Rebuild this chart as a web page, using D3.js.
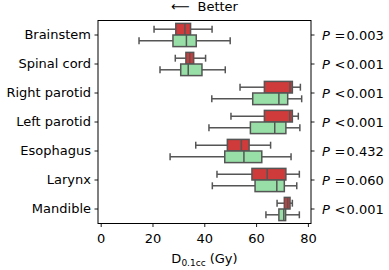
<!DOCTYPE html>
<html><head><meta charset="utf-8">
<script src="https://cdn.jsdelivr.net/npm/d3@7"></script>
<style>html,body{margin:0;padding:0;background:#fff}</style>
</head><body><svg id="c" width="389" height="270"></svg>
<script>
const categories = ["Brainstem","Spinal cord","Right parotid","Left parotid","Esophagus","Larynx","Mandible"];
const pRel = ["=","<","<","<","=","=","<"];
const pVals = ["0.003","0.001","0.001","0.001","0.432","0.060","0.001"];
// [whiskerLow, q1, median, q3, whiskerHigh]
const redStats = [
  [20.6, 29.0, 32.5, 34.7, 43.0],
  [28.8, 32.9, 34.4, 35.9, 40.5],
  [53.8, 63.2, 73.1, 74.0, 77.1],
  [50.3, 63.2, 73.0, 74.0, 76.3],
  [36.7, 48.9, 54.3, 57.3, 65.6],
  [44.9, 58.4, 64.3, 71.5, 76.7],
  [68.1, 70.9, 72.2, 73.1, 74.0]
];
const greenStats = [
  [14.8, 27.9, 33.1, 36.9, 50.0],
  [22.9, 30.9, 33.8, 39.1, 48.1],
  [42.9, 58.7, 68.8, 72.2, 77.6],
  [41.8, 57.8, 67.2, 71.5, 76.9],
  [26.8, 47.9, 55.3, 62.2, 73.5],
  [43.1, 59.6, 68.0, 70.9, 75.7],
  [63.8, 68.8, 70.7, 71.4, 76.7]
];
const xTicks = [0,20,40,60,80];

const svg = d3.select("#c");
const L=98, R=311, T=20.5, B=223.5;
const font = "DejaVu Sans, sans-serif";
const x = d3.scaleLinear().domain([-1.04, 81.2]).range([L, R]);
const y = d3.scaleBand().domain(categories).range([T, B]).padding(0);
const bh = y.bandwidth()*0.4;
const edge = "#555555";

function drawBox(stats, cat, offset, fill){
  const cy = y(cat) + y.bandwidth()/2 + offset;
  const g = svg.append("g");
  const [lo,q1,med,q3,hi] = stats;
  g.append("line").attr("x1",x(lo)).attr("x2",x(q1)).attr("y1",cy).attr("y2",cy).attr("stroke",edge).attr("stroke-width",1.5);
  g.append("line").attr("x1",x(q3)).attr("x2",x(hi)).attr("y1",cy).attr("y2",cy).attr("stroke",edge).attr("stroke-width",1.5);
  [lo,hi].forEach(v=>g.append("line").attr("x1",x(v)).attr("x2",x(v)).attr("y1",cy-bh*0.3).attr("y2",cy+bh*0.3).attr("stroke",edge).attr("stroke-width",1.5));
  g.append("rect").attr("x",x(q1)).attr("y",cy-bh/2).attr("width",x(q3)-x(q1)).attr("height",bh)
    .attr("fill",fill).attr("stroke",edge).attr("stroke-width",1.5);
  g.append("line").attr("x1",x(med)).attr("x2",x(med)).attr("y1",cy-bh/2).attr("y2",cy+bh/2).attr("stroke",edge).attr("stroke-width",1.5);
}
categories.forEach((c,i)=>{
  drawBox(redStats[i], c, -bh/2, "#cf3a3a");
  drawBox(greenStats[i], c, bh/2, "#97dfa6");
});

// frame
svg.append("rect").attr("x",L).attr("y",T).attr("width",R-L).attr("height",B-T).attr("fill","none").attr("stroke","#000").attr("stroke-width",1);

// axes
const xa = svg.append("g").attr("transform",`translate(0,${B})`)
  .call(d3.axisBottom(x).tickValues(xTicks).tickSize(3.5).tickPadding(3.5).tickFormat(d3.format("d")));
const ya = svg.append("g").attr("transform",`translate(${L},0)`)
  .call(d3.axisLeft(y).tickSize(3.5).tickPadding(3.5));
const ya2 = svg.append("g").attr("transform",`translate(${R},0)`)
  .call(d3.axisRight(y).tickSize(3.5).tickPadding(3.5).tickFormat(""));
[xa,ya,ya2].forEach(a=>{
  a.select(".domain").remove();
  a.selectAll(".tick line").attr("stroke","#000").attr("stroke-width",0.9);
  a.selectAll("text").attr("font-family",font).attr("font-size",13).attr("fill","#000");
});
xa.selectAll("text").attr("dy","0.95em");

// right P labels
ya2.selectAll(".tick").each(function(d,i){
  const t = d3.select(this).select("text").attr("x",11).attr("dy","0.36em").attr("text-anchor","start");
  t.text(null);
  t.append("tspan").attr("font-style","italic").text("P");
  t.append("tspan").attr("x",23.5).text(pRel[i]);
  t.append("tspan").attr("x",35.5).text(pVals[i]);
});

// labels
const bt = svg.append("text").attr("x",171).attr("y",10.5)
  .attr("font-family",font).attr("font-size",13);
bt.append("tspan").text("\u27F5");
bt.append("tspan").attr("x",197.5).text("Better");
const xl = svg.append("text").attr("x",(L+R)/2).attr("y",263).attr("text-anchor","middle")
  .attr("font-family",font).attr("font-size",13);
xl.append("tspan").text("D");
xl.append("tspan").attr("font-size",9).attr("dy",2.5).text("0.1cc");
xl.append("tspan").attr("dy",-2.5).text(" (Gy)");
</script></body></html>
